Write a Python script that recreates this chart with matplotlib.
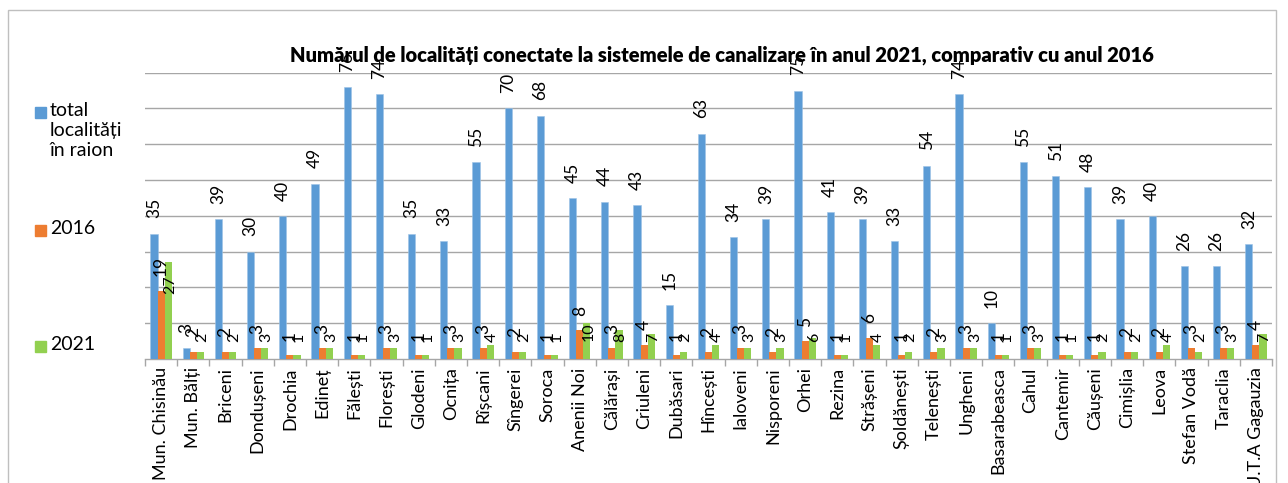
import matplotlib
matplotlib.use('Agg')
import matplotlib.pyplot as plt
import numpy as np
from matplotlib.patches import Rectangle

plt.rcParams['font.family'] = ['Lato', 'DejaVu Sans']

raioane = ['Mun. Chisinău', 'Mun. Bălți', 'Briceni', 'Dondușeni', 'Drochia', 'Edineț',
           'Fălești', 'Florești', 'Glodeni', 'Ocnița', 'Rîșcani', 'Sîngerei', 'Soroca',
           'Anenii Noi', 'Călărași', 'Criuleni', 'Dubăsari', 'Hîncești', 'Ialoveni',
           'Nisporeni', 'Orhei', 'Rezina', 'Strășeni', 'Șoldănești', 'Telenești', 'Ungheni',
           'Basarabeasca', 'Cahul', 'Cantemir', 'Căușeni', 'Cimișlia', 'Leova',
           'Stefan Vodă', 'Taraclia', 'U.T.A Gagauzia']
total = [35, 3, 39, 30, 40, 49, 76, 74, 35, 33, 55, 70, 68, 45, 44, 43, 15, 63, 34,
         39, 75, 41, 39, 33, 54, 74, 10, 55, 51, 48, 39, 40, 26, 26, 32]
an2016 = [19, 2, 2, 3, 1, 3, 1, 3, 1, 3, 3, 2, 1, 8, 3, 4, 1, 2, 3,
          2, 5, 1, 6, 1, 2, 3, 1, 3, 1, 1, 2, 2, 3, 3, 4]
an2021 = [27, 2, 2, 3, 1, 3, 1, 3, 1, 3, 4, 2, 1, 10, 8, 7, 2, 4, 3,
          3, 6, 1, 4, 2, 3, 3, 1, 3, 1, 2, 2, 4, 2, 3, 7]

c_total = '#5B9BD5'
c_2016 = '#ED7D31'
c_2021 = '#92D050'
grid_c = '#A6A6A6'

W, H = 1288, 483
fig = plt.figure(figsize=(W / 100, H / 100), dpi=100)


def fx(px):
    return px / W


def fy(py):
    return 1 - py / H


ax = fig.add_axes([fx(145), fy(359), fx(1272) - fx(145), fy(72.7) - fy(359)])

x = np.arange(len(raioane))
w = 0.22
ax.bar(x - w, total, w, color=c_total, edgecolor='#9DC3E6', linewidth=0.4, zorder=3)
ax.bar(x, an2016, w, color=c_2016, zorder=3)
ax.bar(x + w, an2021, w, color=c_2021, zorder=3)

ax.set_xlim(-0.5, len(raioane) - 0.5)
ax.set_ylim(0, 80)
ax.set_yticks(np.arange(10, 81, 10))
ax.yaxis.grid(True, color=grid_c, linewidth=1.0, zorder=0)
ax.tick_params(axis='y', length=0, labelleft=False)
for s in ['left', 'right', 'top']:
    ax.spines[s].set_visible(False)
ax.spines['bottom'].set_color(grid_c)
ax.spines['bottom'].set_linewidth(1.0)

ax.set_xticks(x)
ax.set_xticklabels(raioane, rotation=90, fontsize=13, va='top', ha='center')
ax.set_xticks(np.arange(-0.5, len(raioane)), minor=True)
ax.tick_params(axis='x', which='major', length=0, pad=6)
ax.tick_params(axis='x', which='minor', length=5, color=grid_c, width=1.0)

# etichete de date
fs = 12.5
for xi, v in zip(x, total):
    ax.annotate(str(v), (xi - w, v), xytext=(0, 11), textcoords='offset points',
                rotation=90, ha='center', va='bottom', fontsize=fs, annotation_clip=False)
for xi, v in zip(x, an2016):
    ax.annotate(str(v), (xi, v), xytext=(0, 10.5), textcoords='offset points',
                rotation=90, ha='center', va='bottom', fontsize=fs, annotation_clip=False)
for xi, v in zip(x, an2021):
    ax.annotate(str(v), (xi + w + 0.05, max(0.77 * v, 6)), rotation=90, ha='center',
                va='center', fontsize=fs - 1, annotation_clip=False)

fig.text(fx(722), fy(55), 'Numărul de localități conectate la sistemele de canalizare în anul 2021, '
         'comparativ cu anul 2016', ha='center', va='center', fontsize=14.5, fontweight='heavy',
         zorder=10)

# legenda
leg = [(c_total, 'total\nlocalități\nîn raion', 113), (c_2016, '2016', 231), (c_2021, '2021', 347)]
for col, txt, yc in leg:
    fig.patches.append(Rectangle((fx(35), fy(yc + 5)), fx(11), fy(0) - fy(11),
                                 transform=fig.transFigure, color=col))
    fig.text(fx(50), fy(yc - 11), txt, ha='left', va='top', fontsize=14, linespacing=1.2)

# chenar
fig.patches.append(Rectangle((fx(8), fy(495)), fx(1276) - fx(8), fy(10) - fy(495),
                             transform=fig.transFigure, fill=False, edgecolor='#BFBFBF',
                             linewidth=1.0))

fig.savefig('out.png', dpi=100)
